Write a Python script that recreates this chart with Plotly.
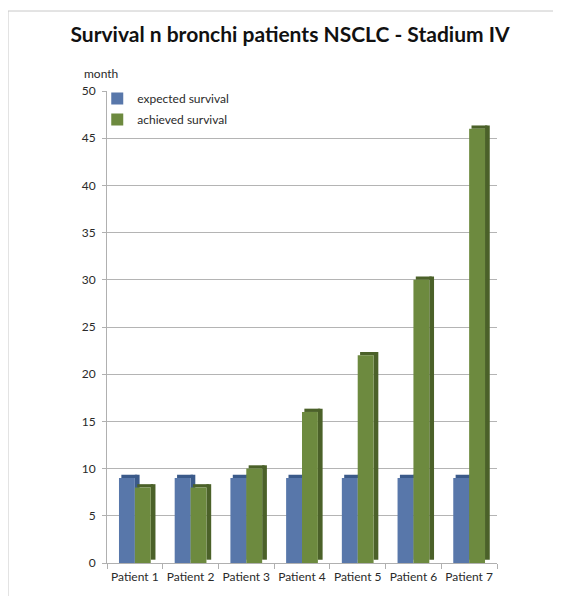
import plotly.graph_objects as go

categories = ["Patient 1", "Patient 2", "Patient 3", "Patient 4", "Patient 5", "Patient 6", "Patient 7"]
expected_survival = [9, 9, 9, 9, 9, 9, 9]
achieved_survival = [8, 8, 10, 16, 22, 30, 46]
y_ticks = [0, 5, 10, 15, 20, 25, 30, 35, 40, 45, 50]

BLUE = "#5877aa"
BLUE_DARK = "#3b5a8a"
GREEN = "#6d8a3f"
GREEN_DARK = "#4b6129"

W = 0.285   # front face width (category units)
D = 0.085   # depth width
H = 0.35    # depth height (data units)

fig = go.Figure()

def side(vals, off, color):
    fig.add_trace(go.Bar(x=categories, y=vals, base=[H] * len(vals), offset=off, width=D,
                         marker=dict(color=color, line=dict(width=0)), showlegend=False,
                         hoverinfo="skip"))

def cap(vals, off, color):
    fig.add_trace(go.Bar(x=categories, y=[H] * len(vals), base=vals, offset=off + D / 2, width=W,
                         marker=dict(color=color, line=dict(width=0)), showlegend=False,
                         hoverinfo="skip"))

def front(vals, off, color, name, grp):
    fig.add_trace(go.Bar(x=categories, y=vals, offset=off, width=W, name=name, legendgroup=grp,
                         marker=dict(color=color, line=dict(width=0))))

# expected survival (blue)
side(expected_survival, 0.0, BLUE_DARK)
cap(expected_survival, -W, BLUE_DARK)
front(expected_survival, -W, BLUE, "expected survival", "a")
# achieved survival (green)
side(achieved_survival, W, GREEN_DARK)
cap(achieved_survival, 0.0, GREEN_DARK)
front(achieved_survival, 0.0, GREEN, "achieved survival", "b")

# page has an 8px body margin; figure coords = page coords - 8
fig.update_layout(
    width=561, height=596,
    margin=dict(l=99, r=72, t=83, b=41),
    paper_bgcolor="white", plot_bgcolor="white",
    barmode="overlay",
    font=dict(family="Lato, Open Sans, sans-serif", color="#2a2a2a", size=12),
    title=dict(text="<b>Survival n bronchi patients NSCLC - Stadium IV</b>",
               x=282 / 561, xanchor="center", y=1 - 27 / 596, yanchor="middle",
               font=dict(size=21, color="#111111")),
    legend=dict(x=-0.025, y=1.015, xanchor="left", yanchor="top", bgcolor="rgba(0,0,0,0)",
                font=dict(size=12), tracegroupgap=2, itemwidth=30),
    showlegend=True,
    xaxis=dict(showgrid=False, showline=True, linecolor="#b0b0b0", linewidth=1,
               ticks="outside", tickson="boundaries", ticklen=5, tickcolor="#b0b0b0",
               tickfont=dict(size=12), tickangle=0, automargin=False, range=[-0.5, 6.5],
               ticklabelstandoff=3),
    yaxis=dict(range=[0, 50], tickvals=y_ticks, showgrid=True, gridcolor="#b4b4b4",
               gridwidth=1, showline=True, linecolor="#b0b0b0", ticks="outside",
               ticklen=4, tickcolor="#b0b0b0", tickfont=dict(size=12), zeroline=False,
               automargin=False, ticklabelstandoff=4),
    annotations=[dict(text="month", xref="paper", yref="paper", x=(82 - 107) / 390,
                      y=(563 - 73) / 472, xanchor="left", yanchor="middle",
                      showarrow=False, font=dict(size=12))],
    shapes=[dict(type="rect", xref="paper", yref="paper",
                 x0=(8 - 107) / 390, x1=(600 - 107) / 390,
                 y0=(563 - 620) / 472, y1=(563 - 11) / 472,
                 line=dict(color="#c8c8c8", width=1), layer="below")],
)

fig.write_html("out.html")
